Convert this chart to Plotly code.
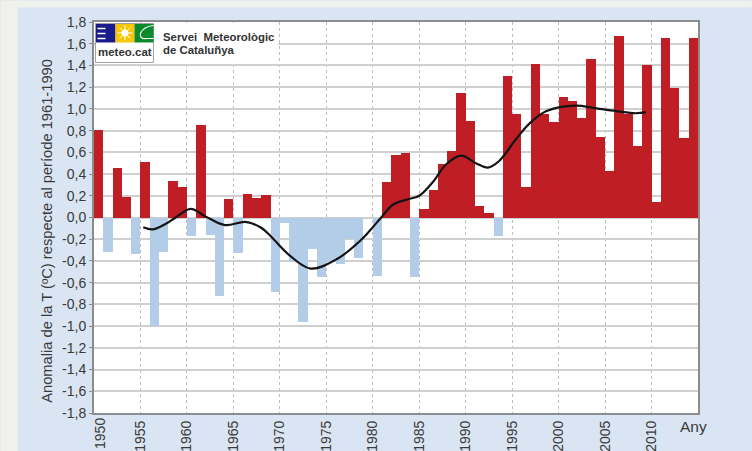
import plotly.graph_objects as go

years = list(range(1950, 2015))
anomalies = [0.81, -0.32, 0.46, 0.19, -0.34, 0.51, -1.00, -0.32, 0.34, 0.28,
             -0.17, 0.85, -0.16, -0.72, 0.17, -0.33, 0.22, 0.18, 0.21, -0.69,
             -0.05, -0.41, -0.96, -0.29, -0.55, -0.41, -0.43, -0.20, -0.37, 0.00,
             -0.54, 0.33, 0.58, 0.59, -0.55, 0.08, 0.25, 0.49, 0.61, 1.15,
             0.89, 0.11, 0.04, -0.17, 1.30, 0.95, 0.28, 1.41, 0.95, 0.88,
             1.11, 1.07, 0.92, 1.46, 0.74, 0.43, 1.67, 0.95, 0.66, 1.40,
             0.14, 1.65, 1.19, 0.73, 1.65]
curve_x = [1955.3, 1956.3, 1957.5, 1958.8, 1960.4, 1962.0, 1964.1, 1966.3, 1967.9, 1969.0,
           1970.8, 1973.3, 1976.2, 1978.7, 1979.7, 1981.0, 1982.2, 1983.9,
           1985.0, 1986.5, 1987.9, 1989.5, 1991.1, 1992.4, 1993.6, 1995.4, 1996.8, 1998.7,
           2001.9, 2003.7, 2006.2, 2008.3, 2009.4]
curve_y = [-0.09, -0.11, -0.07, 0.00, 0.08, 0.01, -0.07, -0.04, -0.09, -0.17,
           -0.33, -0.47, -0.38, -0.21, -0.12, 0.01, 0.12, 0.17,
           0.20, 0.33, 0.49, 0.57, 0.50, 0.46, 0.52, 0.72, 0.86, 0.98,
           1.03, 1.01, 0.98, 0.96, 0.97]
x_ticks = list(range(1955, 2015, 5))
y_ticks = [round(-1.8 + 0.2 * i, 1) for i in range(19)]
y_labels = [f"{v:.1f}".replace(".", ",") for v in y_ticks]

RED, BLUE = "#be1e24", "#b3cde9"
W, H = 752, 451
L, R, T, B = 93.5, 54, 21.5, 38
FONT = "Liberation Sans, Arial, sans-serif"
TXT = "#3a3a3a"

def px(x): return (x - L) / (W - L - R)
def py(y): return 1 - (y - T) / (H - T - B)

def rect(x0, y0, x1, y1, fill, layer="above", line=None):
    return dict(type="rect", xref="paper", yref="paper", x0=px(x0), x1=px(x1), y0=py(y0), y1=py(y1),
                fillcolor=fill, layer=layer, line=line or dict(width=0))

def seg(x0, y0, x1, y1, color, w=1.5):
    return dict(type="line", xref="paper", yref="paper", x0=px(x0), x1=px(x1), y0=py(y0), y1=py(y1),
                layer="above", line=dict(color=color, width=w))

def circ(x0, y0, x1, y1, fill, color, w=0):
    return dict(type="circle", xref="paper", yref="paper", x0=px(x0), x1=px(x1), y0=py(y0), y1=py(y1),
                layer="above", fillcolor=fill, line=dict(color=color, width=w))

def label(x, y, text, size, xanchor="center", angle=0, color=TXT):
    return dict(x=px(x), y=py(y), xref="paper", yref="paper", text=text, showarrow=False,
                xanchor=xanchor, yanchor="middle", textangle=angle,
                font=dict(family=FONT, size=size, color=color))

shapes = [
    rect(0, 0, W, H, "#f0f1ec", "below"),
    rect(17, 7, W, H, "#d9e5f2", "below"),
    rect(L, T, W - R, H - B, "#ffffff", "below"),
    # logo block
    rect(94.5, 22.5, 278, 62, "#ffffff"),
    rect(95, 23, 153, 62, "#ffffff", line=dict(color="#a0a0a0", width=1)),
    rect(95.5, 23.5, 115, 42, "#1a1a8c"),
    rect(115, 23.5, 134, 42, "#f7c600"),
    rect(134, 23.5, 153, 42, "#0a8a2a"),
    seg(97, 28, 105, 28, "#ffffff"),
    seg(97, 33, 105, 33, "#ffffff"),
    seg(97, 38, 105, 38, "#ffffff"),
    circ(121, 29, 128, 36, "#ffffff", "#ffffff"),
    seg(124.5, 25, 124.5, 40, "#ffffff", 1),
    seg(117, 32.5, 132, 32.5, "#ffffff", 1),
    seg(119, 27, 130, 38, "#ffffff", 1),
    seg(130, 27, 119, 38, "#ffffff", 1),
    dict(type="path", xref="paper", yref="paper", layer="above",
         path=f"M {px(153)} {py(25)} Q {px(143)} {py(26)} {px(140)} {py(33)} "
              f"Q {px(139)} {py(39)} {px(146)} {py(38)} L {px(153)} {py(38)}",
         line=dict(color="#ffffff", width=1.2)),
]

fig = go.Figure()
fig.add_bar(x=years, y=anomalies, width=1, offset=0,
            marker=dict(color=[RED if v >= 0 else BLUE for v in anomalies], line=dict(width=0)),
            showlegend=False)
fig.add_scatter(x=curve_x, y=curve_y, mode="lines",
                line=dict(color="#141414", width=2.2, shape="spline", smoothing=1), showlegend=False)

annotations = [
    label(100, 433.5, "1950", 14, angle=-90),
    label(693, 427, "Any", 15.5),
    label(124.5, 52, "<b>meteo.cat</b>", 11.5, color="#333333"),
    label(160.5, 36.5, "<b>Servei  Meteorològic</b>", 11.4, "left", color="#333333"),
    label(160.5, 49.5, "<b>de Cataluñya</b>", 11.4, "left", color="#333333"),
    label(47, 231, "Anomalia de la T (ºC) respecte al període 1961-1990", 14.7, angle=-90),
]

fig.update_layout(
    width=W, height=H, margin=dict(l=L, r=R, t=T, b=B, pad=0, autoexpand=False),
    paper_bgcolor="#d9e5f2", plot_bgcolor="rgba(0,0,0,0)",
    bargap=0, shapes=shapes, annotations=annotations,
    font=dict(family=FONT, size=14, color=TXT),
    xaxis=dict(range=[1950, 2015], tickmode="array", tickvals=x_ticks, ticktext=[str(v) for v in x_ticks],
               tickangle=-90, ticks="", ticklen=0, showgrid=True, gridcolor="#bdbdbd", griddash="dot", gridwidth=1,
               showline=True, linecolor="#8c8c8c", linewidth=2, mirror=True, zeroline=False),
    yaxis=dict(range=[-1.8, 1.8], tickmode="array", tickvals=y_ticks, ticktext=y_labels,
               ticks="outside", ticklen=3, tickcolor="#8c8c8c", tickwidth=1,
               showgrid=True, gridcolor="#cfcfcf", gridwidth=2,
               showline=True, linecolor="#8c8c8c", linewidth=2, mirror=True, zeroline=False),
)
fig.write_html("out.html", config=dict(displayModeBar=False),
               post_script="document.body.style.margin='0';document.body.style.overflow='hidden';")
